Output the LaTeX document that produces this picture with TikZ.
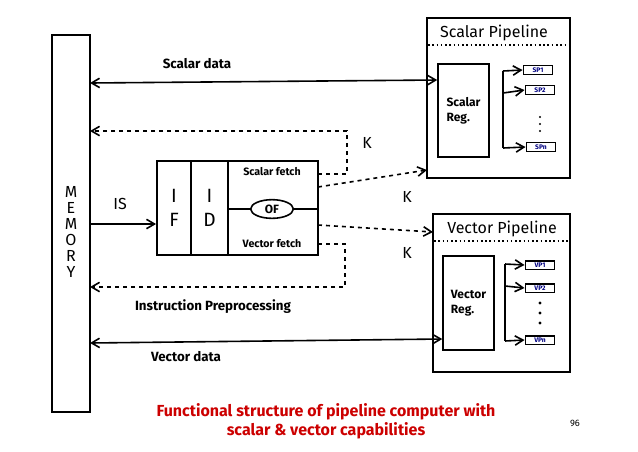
\documentclass[tikz,border=0pt]{standalone}
\usepackage{fontspec}
\setmainfont{Fira Sans}
\usetikzlibrary{arrows.meta,shapes.geometric}
\begin{document}
\begin{tikzpicture}[x=0.75pt,y=-0.75pt,
  box/.style={draw,line width=1.4pt},
  ar/.style={line width=1.2pt,-{Straight Barb[length=6pt,width=7pt]}},
  dar/.style={ar,dashed},
  lbl/.style={font=\bfseries\normalsize},
  dot/.style={fill,circle,inner sep=0,minimum size=2.5pt},
  pb/.style={draw,line width=1.2pt,inner sep=1.5pt,font=\bfseries\tiny,text=blue!50!black,minimum width=22pt}]
\useasboundingbox (0,0) rectangle (638,451);
% memory
\node[box,minimum width=28.5pt,minimum height=282.75pt,inner sep=0] (mem) at (71,223.5) {};
\node[align=center,font=\large,inner sep=0] (memt) at (71,232) {M\\[-2pt]E\\[-2pt]M\\[-2pt]O\\[-2pt]R\\[-2pt]Y};
% scalar pipeline
\node[box,minimum width=107pt,minimum height=120pt,inner sep=0] (sp) at (498.5,98) {};
\node[font=\large] (spt) at (494,33) {Scalar Pipeline};
\draw[dotted,line width=1.2pt] (428,45) -- (569,45);
\node[box,minimum width=38pt,minimum height=70pt,inner sep=0,align=left,font=\bfseries\small] (sreg) at (463.5,110.5) {Scalar\\Reg.};
\node[pb] (sp1) at (538,70) {SP1};
\node[pb] (sp2) at (540,90) {SP2};
\node[pb] (spn) at (541,147) {SPn};
\node[dot,minimum size=1.8pt] (sd1) at (540,117) {};
\node[dot,minimum size=1.8pt] (sd2) at (540,124) {};
\node[dot,minimum size=1.8pt] (sd3) at (540,131) {};
\coordinate (sb1) at (503,71); \coordinate (sb2) at (503,148);
\draw[line width=1.2pt] (sb1) -- (sb2);
\draw[ar] (sb1) -- (sp1.west);
\draw[ar] (503,93) -- (sp2.west);
\draw[ar] (sb2) -- (spn.west);
% vector pipeline
\node[box,minimum width=102.75pt,minimum height=118.5pt,inner sep=0] (vp) at (501.5,293) {};
\node[font=\large] (vpt) at (502,229) {Vector Pipeline};
\draw[dotted,line width=1.2pt] (434,241) -- (569,241);
\node[box,minimum width=38pt,minimum height=70pt,inner sep=0,align=left,font=\bfseries\small] (vreg) at (468.5,303) {Vector\\Reg.};
\node[pb] (vp1) at (540,265) {VP1};
\node[pb] (vp2) at (540,288) {VP2};
\node[pb] (vpn) at (540,340) {VPn};
\node[dot] (vd1) at (540,303) {};
\node[dot] (vd2) at (540,313) {};
\node[dot] (vd3) at (540,323) {};
\coordinate (vb1) at (505,264); \coordinate (vb2) at (505,341);
\draw[line width=1.2pt] (vb1) -- (vb2);
\draw[ar] (vb1) -- (vp1.west);
\draw[ar] (505,286) -- (vp2.west);
\draw[ar] (vb2) -- (vpn.west);
% IF ID fetch
\node[box,minimum width=25.5pt,minimum height=70.5pt,inner sep=0,align=center,font=\Large] (if) at (174,208) {I\\F};
\node[box,minimum width=27.75pt,minimum height=70.5pt,inner sep=0,align=center,font=\Large] (id) at (209.5,208) {I\\D};
\node[box,minimum width=67.5pt,minimum height=70.5pt,inner sep=0] (fe) at (273,208) {};
\draw[line width=1.2pt] (228,209) -- (318,209);
\node[draw,ellipse,line width=1.2pt,fill=white,minimum width=32pt,minimum height=14pt,inner sep=0,font=\bfseries\small] (of) at (272,209) {OF};
\node[font=\bfseries\footnotesize] (sf) at (272,172) {Scalar fetch};
\node[font=\bfseries\footnotesize] (vf) at (272,244) {Vector fetch};
% connectors
\draw[ar,{Straight Barb[length=6pt,width=7pt]}-{Straight Barb[length=6pt,width=7pt]}] (90,83) -- (sreg.west |- 0,80);
\node[lbl] (sd) at (197,64) {Scalar data};
\draw[ar,{Straight Barb[length=6pt,width=7pt]}-{Straight Barb[length=6pt,width=7pt]}] (90,343) -- (vreg.west |- 0,339);
\node[lbl] (vd) at (186,357) {Vector data};
\draw[ar] (90,224) -- (if.west |- 0,224);
\node[font=\large] (is) at (120,204) {IS};
\draw[dar] (318,174) -- (347,174) -- (347,131) -- (90,131);
\draw[dar] (318,187) -- (427,170);
\draw[dar] (318,225) -- (433,232);
\draw[dar] (318,244) -- (345,244) -- (345,287) -- (90,287);
\node[font=\large] (k1) at (367,143) {K};
\node[font=\large] (k2) at (407,197) {K};
\node[font=\large] (k3) at (407,253) {K};
\node[lbl] (ip) at (213,307) {Instruction Preprocessing};
\node[font=\bfseries\large,text=red!80!black,align=center] (cap) at (326,421) {Functional structure of pipeline computer with\\scalar \& vector capabilities};
\node[font=\scriptsize] (pg) at (575,423) {96};
\end{tikzpicture}
\end{document}
